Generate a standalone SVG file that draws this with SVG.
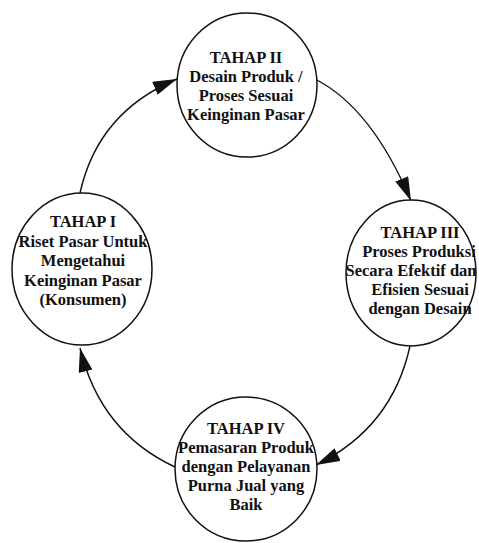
<svg xmlns="http://www.w3.org/2000/svg" width="479" height="543" viewBox="0 0 479 543">
  <style>
    .stage { fill: #ffffff; stroke: #111111; stroke-width: 1.5; }
    .label { font-family: "Liberation Serif", "Times New Roman", serif; font-weight: bold; font-size: 16.5px; fill: #111111; text-anchor: middle; }
    .flow { fill: none; stroke: #111111; stroke-width: 1.4; marker-end: url(#head); }
  </style>
  <defs>
    <marker id="head" markerUnits="userSpaceOnUse" markerWidth="24" markerHeight="14" refX="24" refY="7" orient="auto">
      <path d="M0,0 L24,7 L0,14 z" fill="#111111"/>
    </marker>
  </defs>
  <rect width="479" height="543" fill="#ffffff"/>

  <!-- cycle arrows between the four stages -->
  <g id="connectors">
    <path class="flow" d="M80 193 Q98 112 177 79"/>
    <path class="flow" d="M315 79 Q372 108 411 201"/>
    <path class="flow" d="M410 346 Q392 428 316 465"/>
    <path class="flow" d="M175 467 Q100 432 80 348"/>
  </g>

  <g id="tahap2">
    <ellipse class="stage" cx="247" cy="85" rx="70" ry="72"/>
    <text class="label" x="246" y="63">TAHAP II</text>
    <text class="label" x="246" y="82">Desain Produk /</text>
    <text class="label" x="246" y="101">Proses Sesuai</text>
    <text class="label" x="246" y="120">Keinginan Pasar</text>
  </g>

  <g id="tahap1">
    <ellipse class="stage" cx="82" cy="269" rx="70" ry="76"/>
    <text class="label" x="83" y="227">TAHAP I</text>
    <text class="label" x="83" y="247">Riset Pasar Untuk</text>
    <text class="label" x="83" y="266">Mengetahui</text>
    <text class="label" x="83" y="286">Keinginan Pasar</text>
    <text class="label" x="83" y="305">(Konsumen)</text>
  </g>

  <g id="tahap3">
    <ellipse class="stage" cx="411" cy="273" rx="65" ry="73"/>
    <text class="label" x="420" y="238">TAHAP III</text>
    <text class="label" x="419" y="257">Proses Produksi</text>
    <text class="label" x="411" y="276">Secara Efektif dan</text>
    <text class="label" x="420" y="295">Efisien Sesuai</text>
    <text class="label" x="420" y="314">dengan Desain</text>
  </g>

  <g id="tahap4">
    <ellipse class="stage" cx="246" cy="469" rx="71" ry="72"/>
    <text class="label" x="246" y="434">TAHAP IV</text>
    <text class="label" x="246" y="453">Pemasaran Produk</text>
    <text class="label" x="246" y="472">dengan Pelayanan</text>
    <text class="label" x="246" y="491">Purna Jual yang</text>
    <text class="label" x="246" y="510">Baik</text>
  </g>
</svg>
